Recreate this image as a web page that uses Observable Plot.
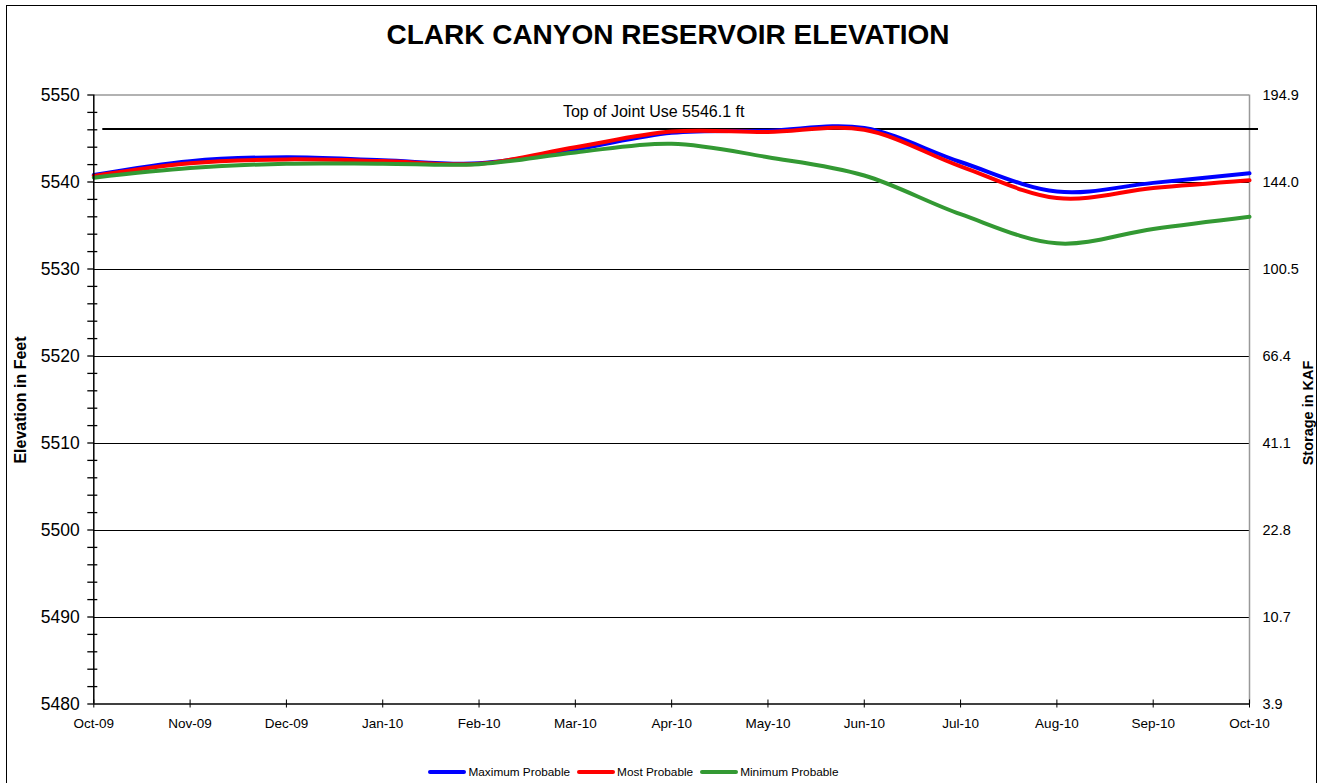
<!DOCTYPE html>
<html><head><meta charset="utf-8">
<script src="https://cdn.jsdelivr.net/npm/d3@7"></script>
<script src="https://cdn.jsdelivr.net/npm/@observablehq/plot@0.6"></script>
<style>
body{margin:0;background:#fff;font-family:"Liberation Sans",Arial,sans-serif;}
#wrap{position:relative;width:1323px;height:783px;overflow:hidden;background:#fff;}
#chart{position:absolute;left:0;top:0;}
#border{position:absolute;left:6px;top:5px;width:1311px;height:800px;border:1px solid #000;box-sizing:border-box;pointer-events:none;}
#title{position:absolute;left:0;width:1336px;top:21px;line-height:28px;text-align:center;font-weight:bold;font-size:28px;color:#000;}
.vt{position:absolute;white-space:nowrap;font-weight:bold;color:#000;transform:translate(-50%,-50%) rotate(-90deg);}
#ylab{left:21px;top:400px;font-size:16px;}
#y2lab{left:1308px;top:413px;font-size:14.5px;}
#legend{position:absolute;left:0;width:1274px;top:765px;height:14px;display:flex;justify-content:center;align-items:center;font-size:11.8px;color:#000;}
.sw{display:inline-block;width:38px;height:4px;border-radius:2px;margin-right:2px;}
.it{display:flex;align-items:center;margin-right:7px;}
</style>
</head><body>
<div id="wrap">
  <div id="chart"></div>
  <div id="border"></div>
  <div id="title">CLARK CANYON RESERVOIR ELEVATION</div>
  <div id="ylab" class="vt">Elevation in Feet</div>
  <div id="y2lab" class="vt">Storage in KAF</div>
  <div id="legend"></div>
</div>
<script>
const months = ["Oct-09","Nov-09","Dec-09","Jan-10","Feb-10","Mar-10","Apr-10","May-10","Jun-10","Jul-10","Aug-10","Sep-10","Oct-10"];
const maxProbable  = [5540.8, 5542.4, 5542.85, 5542.5, 5542.15, 5543.75, 5545.65, 5545.9, 5546.2, 5542.3, 5538.9, 5539.9, 5541.0];
const mostProbable = [5540.7, 5542.15, 5542.6, 5542.4, 5542.1, 5544.0, 5545.8, 5545.75, 5546.0, 5541.8, 5538.15, 5539.3, 5540.2];
const minProbable  = [5540.5, 5541.6, 5542.1, 5542.1, 5542.05, 5543.4, 5544.4, 5542.85, 5540.75, 5536.3, 5532.95, 5534.6, 5536.0];
const seriesNames = ["Maximum Probable","Most Probable","Minimum Probable"];
const seriesColors = ["#0000ff","#ff0000","#339933"];
const elevTicks = [5480,5490,5500,5510,5520,5530,5540,5550];
const storageLabels = ["3.9","10.7","22.8","41.1","66.4","100.5","144.0","194.9"];
const jointUse = 5546.1;
const jointLabel = "Top of Joint Use 5546.1 ft";

const seriesValues = [maxProbable, mostProbable, minProbable];
const idx = months.map((_, i) => i);
const yMin = d3.min(elevTicks), yMax = d3.max(elevTicks);
const minorTicks = d3.range(yMin, yMax + 1, 2).filter(v => v % 10 !== 0);
const xMax = months.length - 1;

const lineMarks = seriesValues.map((vals, s) =>
  Plot.line(vals.map((v, i) => ({i, v})), {x: "i", y: "v", stroke: seriesColors[s], strokeWidth: 4, curve: "cardinal", tension: 0, strokeLinejoin: "round", strokeLinecap: "round"})
);

const chart = Plot.plot({
  width: 1323, height: 783,
  marginTop: 94.5, marginBottom: 79.5, marginLeft: 93.3, marginRight: 74,
  x: {domain: [0, xMax], axis: null},
  y: {domain: [yMin, yMax], axis: null},
  style: {fontFamily: "'Liberation Sans', Arial, sans-serif", overflow: "visible", background: "transparent", color: "#000"},
  marks: [
    Plot.gridY(elevTicks.slice(1, -1), {stroke: "#000", strokeOpacity: 1, strokeWidth: 1, shapeRendering: "crispEdges"}),
    Plot.ruleY([yMax], {stroke: "#999", strokeWidth: 1.5}),
    Plot.ruleX([xMax], {stroke: "#999", strokeWidth: 1.5}),
    Plot.ruleY([jointUse], {stroke: "#000", strokeWidth: 2, dx: 9}),
    Plot.text([jointLabel], {y: [jointUse], text: d => d, frameAnchor: "middle", dx: -18, dy: -17, fontSize: 16, fill: "#000"}),
    ...lineMarks,
    Plot.ruleX([0], {stroke: "#000", strokeWidth: 1.5}),
    Plot.ruleY([yMin], {stroke: "#000", strokeWidth: 1.5}),
    Plot.axisY({ticks: elevTicks, anchor: "left", tickSize: 6, tickPadding: 8, tickFormat: d => String(d), fontSize: 17.5, label: null, strokeWidth: 1.3}),
    Plot.axisY({ticks: minorTicks, anchor: "left", tickSize: 10, dx: 4, fill: "none", label: null, strokeWidth: 1.3}),
    Plot.axisY({ticks: elevTicks, anchor: "right", tickSize: 0, tickPadding: 13, tickFormat: d => storageLabels[elevTicks.indexOf(d)], fontSize: 14.5, label: null}),
    Plot.axisX({ticks: idx, anchor: "bottom", tickSize: 8, dy: -4, fill: "none", label: null}),
    Plot.axisX({ticks: idx, anchor: "bottom", tickSize: 0, tickPadding: 14, tickFormat: i => months[i], fontSize: 13.5, label: null})
  ]
});
document.getElementById("chart").appendChild(chart);

const legend = document.getElementById("legend");
seriesNames.forEach((n, s) => {
  const it = document.createElement("div");
  it.className = "it";
  it.innerHTML = `<span class="sw" style="background:${seriesColors[s]}"></span><span>${n}</span>`;
  legend.appendChild(it);
});
</script>
</body></html>
